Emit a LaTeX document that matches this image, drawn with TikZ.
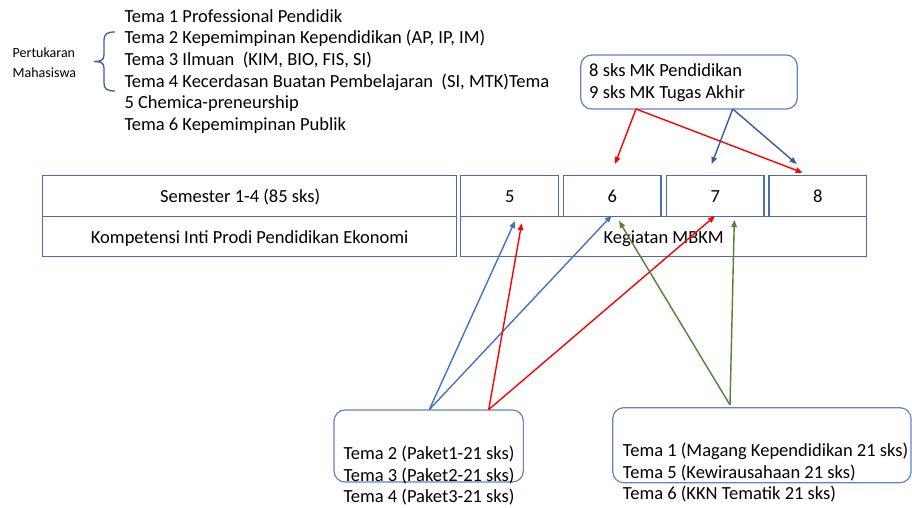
\documentclass[tikz,border=0pt]{standalone}
\usepackage{fontspec}
\setmainfont{Carlito}
\usetikzlibrary{arrows.meta,calc}
\definecolor{tblue}{RGB}{76,108,176}
\definecolor{bblue}{RGB}{98,130,196}
\definecolor{ablue}{RGB}{68,114,196}
\definecolor{dblue}{RGB}{58,90,158}
\definecolor{agreen}{RGB}{84,130,53}
\definecolor{ared}{RGB}{255,0,0}
\begin{document}
\begin{tikzpicture}[x=1pt,y=-1pt,
  txt/.style={font=\fontsize{18.5}{21.7}\selectfont, inner sep=0pt, anchor=base west},
  small/.style={font=\fontsize{14}{17}\selectfont, inner sep=0pt, anchor=base west},
  cell/.style={draw=tblue, line width=1.2pt, minimum height=40.6pt, text height=13pt, text depth=0pt, inner sep=0pt, font=\fontsize{18.5}{21.7}\selectfont},
  rbox/.style={draw=bblue, line width=1.2pt, rounded corners=11pt, inner sep=0pt},
  conn/.style={line width=1.4pt, -{Triangle[length=7pt,width=5.5pt]}},
  bracestyle/.style={draw=dblue, line width=1.3pt}
]
\useasboundingbox[fill=white] (0,0) rectangle (912,508);

% top list
\node[txt] (l1) at (124.3,22.3) {Tema 1 Professional Pendidik};
\node[txt] (l2) at (124.3,43.9) {Tema 2 Kepemimpinan Kependidikan (AP, IP, IM)};
\node[txt] (l3) at (124.3,65.5) {Tema 3 Ilmuan\ \ (KIM, BIO, FIS, SI)};
\node[txt] (l4) at (124.3,87.1) {Tema 4 Kecerdasan Buatan Pembelajaran\ \ (SI, MTK)Tema};
\node[txt] (l5) at (124.3,108.7) {5 Chemica-preneurship};
\node[txt] (l6) at (124.3,130.3) {Tema 6 Kepemimpinan Publik};

\node[small] (pm1) at (12.5,58) {Pertukaran};
\node[small] (pm2) at (12.5,77.5) {Mahasiswa};

% brace
\coordinate (brT) at (115,32);
\coordinate (brB) at (115,91);
\coordinate (brM) at (94,61.5);
\draw[bracestyle] (brT) .. controls (107,32) and (104,34) .. (104,40) -- (104,55)
  .. controls (104,60) and (101,61.5) .. (brM)
  .. controls (101,61.5) and (104,63) .. (104,68) -- (104,83)
  .. controls (104,89) and (107,91) .. (brB);

% table
\node[cell, minimum width=414pt] (sem) at (249.7,196.1) {Semester 1-4 (85 sks)\hspace*{19pt}};
\node[cell, minimum width=414pt, minimum height=40.2pt] (komp) at (249.7,236.6) {Kompetensi Inti Prodi Pendidikan Ekonomi};
\node[cell, minimum width=98pt] (c5) at (509.7,196) {5};
\node[cell, minimum width=97.7pt] (c6) at (612.2,196) {6};
\node[cell, minimum width=97.3pt] (c7) at (715.3,196) {7};
\node[cell, minimum width=97.7pt] (c8) at (817.8,196) {8};
\node[cell, minimum width=406pt, minimum height=40.4pt] (mbkm) at (663.7,236.5) {Kegiatan MBKM};

% rounded boxes
\node[rbox, minimum width=216.6pt, minimum height=54pt] (tb) at (689,82) {};
\node[rbox, minimum width=189.3pt, minimum height=72pt] (pa) at (428.7,446) {};
\node[rbox, minimum width=298.3pt, minimum height=75pt] (pb) at (761.9,445.2) {};

\node[txt] (tb1) at (589,76.5) {8 sks MK Pendidikan};
\node[txt] (tb2) at (589,98.3) {9 sks MK Tugas Akhir};

\node[txt] (pa1) at (343.3,459.3) {Tema 2 (Paket1-21 sks)};
\node[txt] (pa2) at (343.3,481) {Tema 3 (Paket2-21 sks)};
\node[txt] (pa3) at (343.3,502.7) {Tema 4 (Paket3-21 sks)};

\node[txt] (pb1) at (622.7,456.7) {Tema 1 (Magang Kependidikan 21 sks)};
\node[txt] (pb2) at (622.7,478.3) {Tema 5 (Kewirausahaan 21 sks)};
\node[txt] (pb3) at (622.7,499.7) {Tema 6 (KKN Tematik 21 sks)};

% connector points
\coordinate (tbR) at (636,109);
\coordinate (tbB) at (732.7,109);
\coordinate (t6) at (615,164);
\coordinate (t7) at (711.7,164);
\coordinate (t8b) at (796.7,164);
\coordinate (t8r) at (802.7,172.7);
\coordinate (paB) at (429.3,409.6);
\coordinate (paR) at (488.7,409.6);
\coordinate (pbG) at (730,405);
\coordinate (m5b) at (515,221);
\coordinate (m5r) at (521.7,223.3);
\coordinate (m6b) at (611.7,215.5);
\coordinate (m6g) at (619,221);
\coordinate (m7r) at (715,216);
\coordinate (m7g) at (734.3,220);

% arrows from top box
\draw[conn, ared] (tbR) -- (t6);
\draw[conn, ared] (tbR) -- (t8r);
\draw[conn, dblue] (tbB) -- (t7);
\draw[conn, dblue] (tbB) -- (t8b);

% arrows from bottom boxes
\draw[conn, ablue] (paB) -- (m5b);
\draw[conn, ablue] (paB) -- (m6b);
\draw[conn, ared] (paR) -- (m5r);
\draw[conn, ared] (paR) -- (m7r);
\draw[conn, agreen] (pbG) -- (m6g);
\draw[conn, agreen] (pbG) -- (m7g);
\end{tikzpicture}
\end{document}
